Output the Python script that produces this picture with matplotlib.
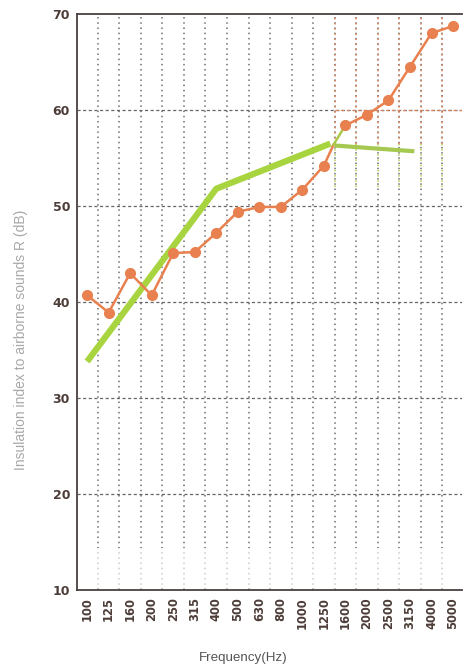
import numpy as np
import matplotlib
matplotlib.use('Agg')
import matplotlib.pyplot as plt

# frequency bands (Hz)
freqs = ['100', '125', '160', '200', '250', '315', '400', '500', '630',
         '800', '1000', '1250', '1600', '2000', '2500', '3150', '4000', '5000']

# measured sound insulation index R (dB)
measured = [40.7, 38.9, 43.0, 40.7, 45.1, 45.2, 47.2, 49.4, 49.9,
            49.9, 51.7, 54.2, 58.4, 59.5, 61.0, 64.5, 68.0, 68.75]

# reference curve (positions on the band axis, dB)
ref_pos = [0, 6, 11.3]
ref_val = [33.8, 51.8, 56.5]
ref_flat_pos = [11.5, 15.2]
ref_flat_val = [56.3, 55.7]
# point where the measured line crosses the reference end
joint_pos = 11.45
joint_val = 56.4

yticks = [10, 20, 30, 40, 50, 60, 70]

tick_col = '#4d3d38'
x = np.arange(len(freqs))

fig = plt.figure(figsize=(4.63, 6.66), dpi=100)
ax = fig.add_axes([0.1663, 0.1141, 0.8317, 0.8649])

ax.set_xlim(-0.47, len(freqs) - 0.58)
ax.set_ylim(10, 70)

# grid
for b in np.arange(0.5, len(freqs) - 1, 1.0):
    ax.plot([b, b], [10, 70], color='#6e6e6e', lw=1.1, ls=(0, (1, 2.4)), zorder=1)
for yy in yticks[1:-1]:
    ax.plot([-0.47, len(freqs)], [yy, yy], color='#666666', lw=0.9, ls=(0, (2.5, 2)), zorder=1)

# tinted grid in the upper right corner
for b in np.arange(11.5, len(freqs) - 1, 1.0):
    ax.plot([b, b], [56.5, 70], color='#e0855a', lw=1.1, ls=(0, (1, 2.4)), zorder=1.2)
    ax.plot([b, b], [52, 56.5], color='#b5cc55', lw=1.1, ls=(0, (1, 2.4)), zorder=1.2)
ax.plot([11.5, len(freqs)], [60, 60], color='#d9845c', lw=0.9, ls=(0, (2.5, 2)), zorder=1.2)

# faded band near the bottom
ax.axhspan(10.3, 14.4, color='white', alpha=0.65, lw=0, zorder=1.5)

# measured curve
line_x = list(x[:12]) + [joint_pos]
line_y = measured[:12] + [joint_val]
ax.plot(line_x, line_y, color='#e8804f', lw=1.8, zorder=3)
ax.plot([joint_pos, 12], [joint_val, measured[12]], color='#a9c94a', lw=1.8, zorder=3)
ax.plot(x[12:], measured[12:], color='#e8804f', lw=1.8, zorder=3)
ax.plot(x, measured, 'o', color='#e8804f', ms=7, zorder=4)

# reference curve
ax.plot(ref_pos, ref_val, color='#a8d440', lw=4.5, solid_capstyle='butt', zorder=2.5)
ax.plot(ref_flat_pos, ref_flat_val, color='#a4c850', lw=3, solid_capstyle='butt', zorder=2.5)

ax.set_xticks(x)
ax.set_xticklabels(freqs, rotation=90, fontsize=8.3, fontweight='bold', color=tick_col)
ax.set_yticks(yticks)
ax.set_yticklabels([str(v) for v in yticks], fontsize=9, fontweight='bold', color=tick_col)
ax.tick_params(length=0, pad=5)

for side in ['left', 'bottom', 'top']:
    ax.spines[side].set_color('#4a4040')
    ax.spines[side].set_linewidth(1.3)
ax.spines['right'].set_visible(False)

ax.set_ylabel('Insulation index to airborne sounds R (dB)', fontsize=10,
              color='#a8a8a8', family='Liberation Sans')
ax.yaxis.set_label_coords(-0.127, 0.434)
ax.set_xlabel('Frequency(Hz)', fontsize=9.6, color='#555555', family='Liberation Sans')
ax.xaxis.set_label_coords(0.431, -0.107)

fig.savefig('out.png', dpi=100)
